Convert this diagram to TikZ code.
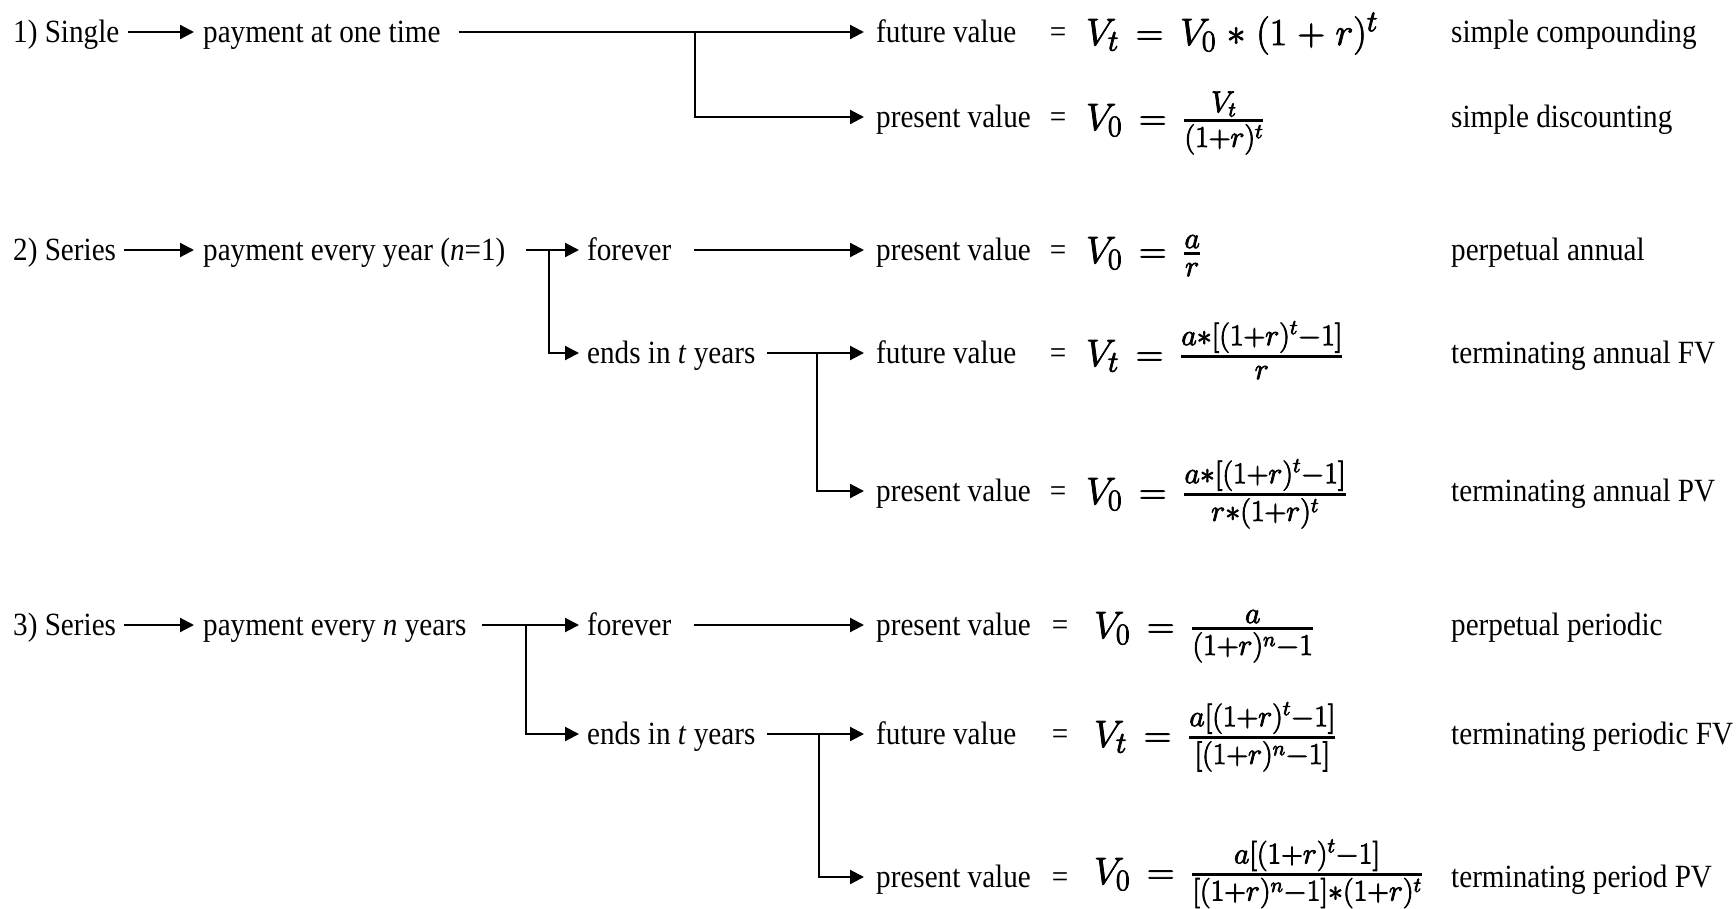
\RequirePackage{fix-cm}
\documentclass[tikz,border=0pt]{standalone}
\usepackage{amsmath}
\usepackage{fontspec}
\setmainfont{Liberation Serif}[FakeStretch=0.9]
\usetikzlibrary{arrows.meta}
\DeclareMathSizes{38}{38}{30}{21}
\newcommand\fmlsetup{\fontsize{38}{44}\selectfont\thickmuskip=8mu\relax\medmuskip=5mu\relax}
\newcommand\myfrac[2]{\genfrac{}{}{2.6pt}{1}{#1}{#2}}
\newcommand\heavyon{\special{pdf:literal direct 2 Tr 0.8 w}}
\newcommand\heavyoff{\special{pdf:literal direct 0 Tr}}
\newcommand\fml[1]{\heavyon$#1$\heavyoff}
\begin{document}
\begin{tikzpicture}[x=1pt,y=-1pt,
  lbl/.style={anchor=west, inner sep=0pt, font=\fontsize{32.4}{38}\selectfont, text height=22pt, text depth=2pt},
  rlbl/.style={anchor=base west, inner sep=0pt, font=\fontsize{32.4}{38}\selectfont},
  eqs/.style={anchor=base, inner sep=0pt, font=\fontsize{32.4}{38}\selectfont},
  fmlnode/.style={anchor=base west, inner sep=0pt, font=\fmlsetup},
  arr/.style={line width=2.2pt, -{Triangle[length=14pt,width=14pt]}}]
\useasboundingbox (0,0) rectangle (1736,908);

% ---------- row 1 ----------
\node[lbl] (s1) at (13,32) {1) Single};
\node[lbl] (p1) at (203,32) {payment at one time};
\node[lbl] (fv1) at (876,32) {future value};
\node[lbl] (pv1) at (876,117) {present value};
\coordinate (j1) at (695,32);
\draw[arr] ([xshift=8pt]s1.east) -- ([xshift=-9pt]p1.west);
\draw[arr] ([xshift=18pt]p1.east) -- ([xshift=-12pt]fv1.west);
\draw[arr] (j1) |- ([xshift=-12pt]pv1.west);

% ---------- row 2 ----------
\node[lbl] (s2) at (13,250) {2) Series};
\node[lbl] (p2) at (203,250) {payment every year (\textit{n}=1)};
\node[lbl] (fo2) at (587,250) {forever};
\node[lbl] (e2) at (587,353) {ends in \textit{t} years};
\node[lbl] (pv2) at (876,250) {present value};
\node[lbl] (fv2b) at (876,353) {future value};
\node[lbl] (pv2c) at (876,491) {present value};
\coordinate (j2) at (549,250);
\coordinate (j2b) at (817,353);
\draw[arr] ([xshift=8pt]s2.east) -- ([xshift=-9pt]p2.west);
\draw[arr] ([xshift=20pt]p2.east) -- ([xshift=-8pt]fo2.west);
\draw[arr] (j2) |- ([xshift=-8pt]e2.west);
\draw[arr] ([xshift=22pt]fo2.east) -- ([xshift=-12pt]pv2.west);
\draw[arr] ([xshift=11pt]e2.east) -- ([xshift=-12pt]fv2b.west);
\draw[arr] (j2b) |- ([xshift=-12pt]pv2c.west);

% ---------- row 3 ----------
\node[lbl] (s3) at (13,625) {3) Series};
\node[lbl] (p3) at (203,625) {payment every \textit{n} years};
\node[lbl] (fo3) at (587,625) {forever};
\node[lbl] (e3) at (587,734) {ends in \textit{t} years};
\node[lbl] (pv3) at (876,625) {present value};
\node[lbl] (fv3b) at (876,734) {future value};
\node[lbl] (pv3c) at (876,877) {present value};
\coordinate (j3) at (526,625);
\coordinate (j3b) at (819,734);
\draw[arr] ([xshift=8pt]s3.east) -- ([xshift=-9pt]p3.west);
\draw[arr] ([xshift=15pt]p3.east) -- ([xshift=-8pt]fo3.west);
\draw[arr] (j3) |- ([xshift=-8pt]e3.west);
\draw[arr] ([xshift=22pt]fo3.east) -- ([xshift=-12pt]pv3.west);
\draw[arr] ([xshift=11pt]e3.east) -- ([xshift=-12pt]fv3b.west);
\draw[arr] (j3b) |- ([xshift=-12pt]pv3c.west);

% ---------- equals signs ----------
\node[eqs] (q1) at (1058,42) {=};
\node[eqs] (q1b) at (1058,127) {=};
\node[eqs] (q2) at (1058,260) {=};
\node[eqs] (q2b) at (1058,363) {=};
\node[eqs] (q2c) at (1058,501) {=};
\node[eqs] (q3) at (1060,635) {=};
\node[eqs] (q3b) at (1060,744) {=};
\node[eqs] (q3c) at (1060,887) {=};

% ---------- formulas ----------
\node[fmlnode] (f1) at (1086,45) {\fml{V_t = V_0 * (1+r)^t}};
\node[fmlnode] (f1b) at (1086,130) {\fml{V_0 = \myfrac{V_t}{(1+r)^t}}};
\node[fmlnode] (f2) at (1086,263) {\fml{V_0 = \myfrac{a}{r}}};
\node[fmlnode] (f2b) at (1086,366) {\fml{V_t = \myfrac{a*\left[(1+r)^t-1\right]}{r}}};
\node[fmlnode] (f2c) at (1086,504) {\fml{V_0 = \myfrac{a*\left[(1+r)^t-1\right]}{r*(1+r)^t}}};
\node[fmlnode] (f3) at (1094,638) {\fml{V_0 = \myfrac{a}{(1+r)^n-1}}};
\node[fmlnode] (f3b) at (1094,747) {\fml{V_t = \myfrac{a\left[(1+r)^t-1\right]}{[(1+r)^n-1]}}};
\node[fmlnode] (f3c) at (1094,884) {\fml{V_0 = \genfrac{}{}{2.4pt}{1}{a\left[(1+r)^t-1\right]}{[(1+r)^n-1]*(1+r)^t}}};

% ---------- right labels ----------
\node[rlbl] (r1) at (1451,42) {simple compounding};
\node[rlbl] (r1b) at (1451,127) {simple discounting};
\node[rlbl] (r2) at (1451,260) {perpetual annual};
\node[rlbl] (r2b) at (1451,363) {terminating annual FV};
\node[rlbl] (r2c) at (1451,501) {terminating annual PV};
\node[rlbl] (r3) at (1451,635) {perpetual periodic};
\node[rlbl] (r3b) at (1451,744) {terminating periodic FV};
\node[rlbl] (r3c) at (1451,887) {terminating period PV};
\end{tikzpicture}
\end{document}
